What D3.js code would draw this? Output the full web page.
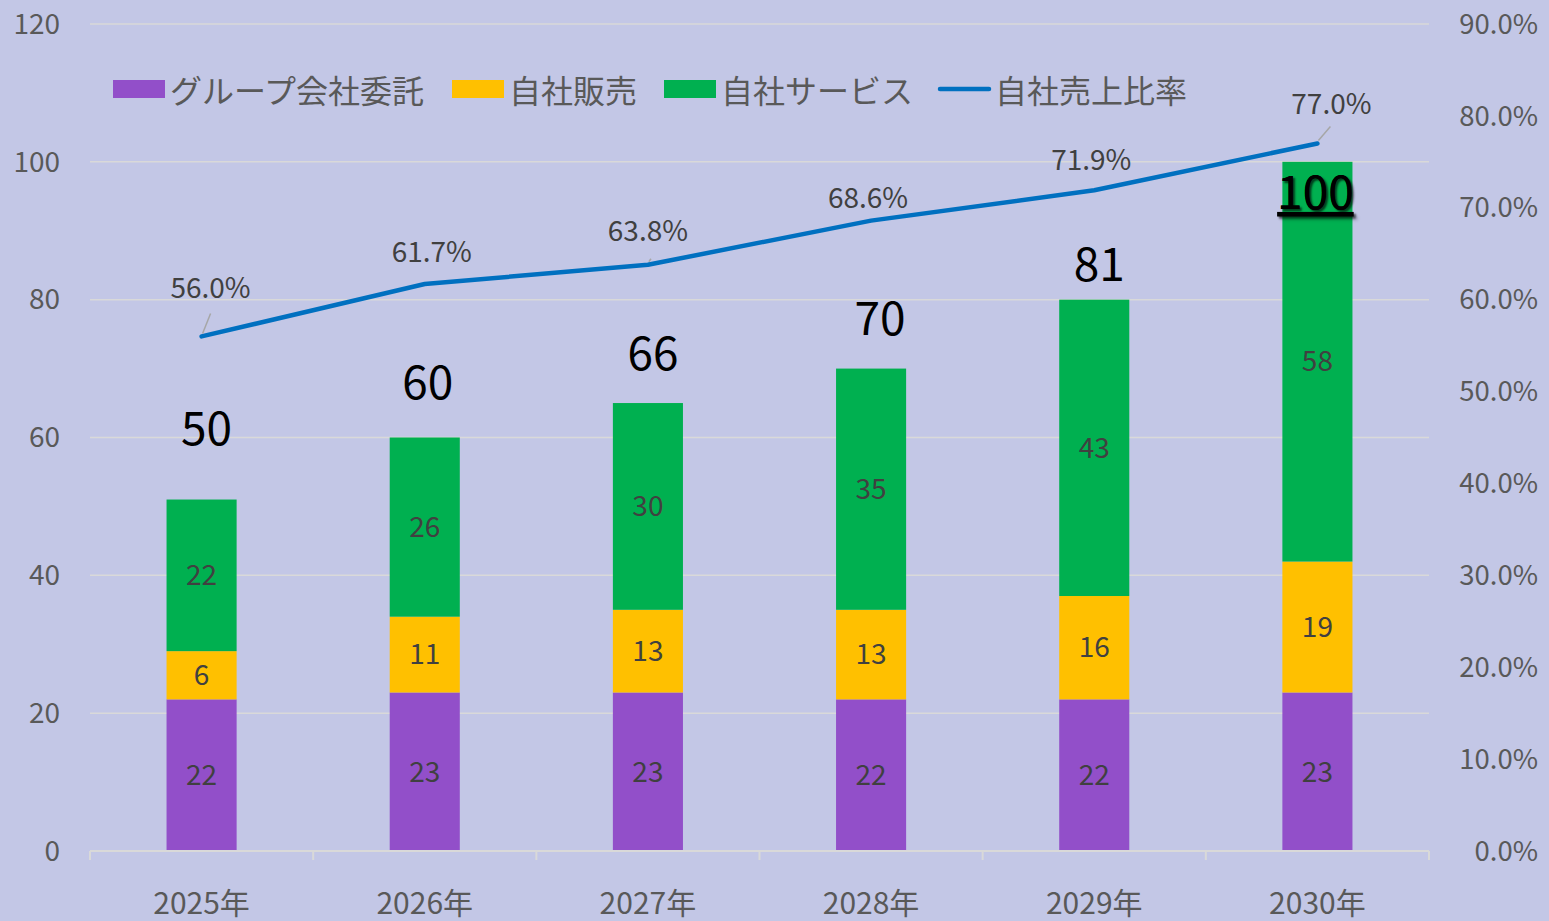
<!DOCTYPE html>
<html>
<head>
<meta charset="utf-8">
<script src="https://cdn.jsdelivr.net/npm/d3@7"></script>
<style>
  html, body { margin: 0; padding: 0; background: #c3c7e6; }
  svg { display: block; font-family: "Noto Sans CJK JP", "Noto Sans", sans-serif; }
</style>
</head>
<body>
<div id="chart"></div>
<script>
const years = ['2025年', '2026年', '2027年', '2028年', '2029年', '2030年'];
// bar heights as drawn
const groupConsign = [22, 23, 23, 22, 22, 23];
const ownSales = [7, 11, 12, 13, 15, 19];
const ownService = [22, 26, 30, 35, 43, 58];
// labels as printed on the chart (hand-entered in the original)
const ownSalesLabels = [6, 11, 13, 13, 16, 19];
const totalLabels = [50, 60, 66, 70, 81, 100];
const ownRatio = [56.0, 61.7, 63.8, 68.6, 71.9, 77.0];
const leftTicks = [0, 20, 40, 60, 80, 100, 120];
const rightTicks = [0, 10, 20, 30, 40, 50, 60, 70, 80, 90];

const seriesNames = ['グループ会社委託', '自社販売', '自社サービス', '自社売上比率'];
const colors = ['#924fc9', '#ffc000', '#00b050', '#0070c0'];

const width = 1549, height = 921;
const margin = { top: 24, right: 120, bottom: 70, left: 90 };

const svg = d3.select('#chart').append('svg')
  .attr('width', width)
  .attr('height', height);

svg.append('rect').attr('width', width).attr('height', height).attr('fill', '#c3c7e6');

const x = d3.scaleBand()
  .domain(years)
  .range([margin.left, width - margin.right])
  .paddingInner(0.686)
  .paddingOuter(0.343);
const cx = yr => x(yr) + x.bandwidth() / 2;

const y = d3.scaleLinear().domain([0, 120]).range([height - margin.bottom, margin.top]);
const y2 = d3.scaleLinear().domain([0, 90]).range([height - margin.bottom, margin.top]);

// gridlines
svg.append('g')
  .selectAll('line')
  .data(leftTicks.slice(1))
  .join('line')
  .attr('x1', margin.left)
  .attr('x2', width - margin.right)
  .attr('y1', d => y(d))
  .attr('y2', d => y(d))
  .attr('stroke', '#d9d9d9')
  .attr('stroke-width', 1.5);

// left axis labels
svg.append('g')
  .selectAll('text')
  .data(leftTicks)
  .join('text')
  .attr('x', 60)
  .attr('y', d => y(d))
  .attr('dy', '0.35em')
  .attr('text-anchor', 'end')
  .attr('font-size', 28)
  .attr('fill', '#595959')
  .text(d => d);

// right axis labels
svg.append('g')
  .selectAll('text')
  .data(rightTicks)
  .join('text')
  .attr('x', 1538)
  .attr('y', d => y2(d))
  .attr('dy', '0.35em')
  .attr('text-anchor', 'end')
  .attr('font-size', 27.5)
  .attr('fill', '#595959')
  .text(d => d.toFixed(1) + '%');

// stacked bars
const table = years.map((yr, i) => ({
  year: yr,
  idx: i,
  g: groupConsign[i],
  s: ownSales[i],
  v: ownService[i]
}));
const keys = ['g', 's', 'v'];
const stack = d3.stack().keys(keys)(table);

const segLabel = (key, d) => key === 's' ? ownSalesLabels[d.data.idx] : d.data[key];

const layers = svg.append('g')
  .selectAll('g')
  .data(stack)
  .join('g')
  .attr('fill', (d, i) => colors[i]);

layers.selectAll('rect')
  .data(d => d)
  .join('rect')
  .attr('x', d => x(d.data.year))
  .attr('width', x.bandwidth())
  .attr('y', d => y(d[1]))
  .attr('height', d => y(d[0]) - y(d[1]));

layers.each(function(layer) {
  d3.select(this).selectAll('text')
    .data(layer)
    .join('text')
    .attr('x', d => cx(d.data.year))
    .attr('y', d => (y(d[0]) + y(d[1])) / 2)
    .attr('dy', '0.35em')
    .attr('text-anchor', 'middle')
    .attr('font-size', 28)
    .attr('fill', '#404040')
    .text(d => segLabel(layer.key, d));
});

// x axis
const axisY = y(0);
svg.append('line')
  .attr('x1', margin.left).attr('x2', width - margin.right)
  .attr('y1', axisY).attr('y2', axisY)
  .attr('stroke', '#d9d9d9').attr('stroke-width', 2);

const step = x.step();
svg.append('g')
  .selectAll('line')
  .data(d3.range(years.length + 1))
  .join('line')
  .attr('x1', i => margin.left + i * step)
  .attr('x2', i => margin.left + i * step)
  .attr('y1', axisY)
  .attr('y2', axisY + 9)
  .attr('stroke', '#d9d9d9')
  .attr('stroke-width', 2);

svg.append('g')
  .selectAll('text')
  .data(years)
  .join('text')
  .attr('x', d => cx(d))
  .attr('y', 903)
  .attr('dy', '0.35em')
  .attr('text-anchor', 'middle')
  .attr('font-size', 30)
  .attr('fill', '#595959')
  .text(d => d);

// totals above bars (label nudges as placed in the original)
const barTops = years.map((yr, i) => groupConsign[i] + ownSales[i] + ownService[i]);
const totalNudge = [[5, -71], [3, -55], [5, -49], [9, -50], [5, -35], [-2, 31]];
svg.append('g')
  .selectAll('text')
  .data(totalLabels)
  .join('text')
  .attr('x', (d, i) => cx(years[i]) + totalNudge[i][0])
  .attr('y', (d, i) => y(barTops[i]) + totalNudge[i][1])
  .attr('dy', '0.35em')
  .attr('text-anchor', 'middle')
  .attr('font-size', 46)
  .attr('fill', '#000')
  .attr('text-decoration', (d, i) => i === totalLabels.length - 1 ? 'underline' : null)
  .style('text-shadow', (d, i) => i === totalLabels.length - 1 ? '2px 2px 2px rgba(0,0,0,0.4)' : null)
  .text(d => d);

// ratio line
const line = d3.line()
  .x((d, i) => cx(years[i]))
  .y(d => y2(d));

svg.append('path')
  .datum(ownRatio)
  .attr('d', line)
  .attr('fill', 'none')
  .attr('stroke', colors[3])
  .attr('stroke-width', 4.5)
  .attr('stroke-linecap', 'round')
  .attr('stroke-linejoin', 'round');

const ratioNudge = [[9, -48], [7, -32], [0, -34], [-3, -22], [-3, -30], [14, -39]];
const leaderEnd = [[9, -23], null, [3, -6], null, null, [13, -17]];
const ratioPts = ownRatio.map((d, i) => ({ v: d, yr: years[i], nudge: ratioNudge[i], leader: leaderEnd[i] }));

svg.append('g')
  .selectAll('line')
  .data(ratioPts.filter(p => p.leader))
  .join('line')
  .attr('x1', p => cx(p.yr) + 1)
  .attr('y1', p => y2(p.v) - 3)
  .attr('x2', p => cx(p.yr) + p.leader[0])
  .attr('y2', p => y2(p.v) + p.leader[1])
  .attr('stroke', '#a6a6a6')
  .attr('stroke-width', 1.5);

svg.append('g')
  .selectAll('text')
  .data(ratioPts)
  .join('text')
  .attr('x', p => cx(p.yr) + p.nudge[0])
  .attr('y', p => y2(p.v) + p.nudge[1])
  .attr('dy', '0.35em')
  .attr('text-anchor', 'middle')
  .attr('font-size', 28)
  .attr('fill', '#404040')
  .text(p => p.v.toFixed(1) + '%');

// legend
const legendItems = [
  { name: seriesNames[0], color: colors[0], x: 113, type: 'rect' },
  { name: seriesNames[1], color: colors[1], x: 452, type: 'rect' },
  { name: seriesNames[2], color: colors[2], x: 664, type: 'rect' },
  { name: seriesNames[3], color: colors[3], x: 938, type: 'line' }
];
const legend = svg.append('g')
  .selectAll('g')
  .data(legendItems)
  .join('g')
  .attr('transform', d => `translate(${d.x},89)`);

legend.filter(d => d.type === 'rect')
  .append('rect')
  .attr('x', 0).attr('y', -9)
  .attr('width', 52).attr('height', 18)
  .attr('fill', d => d.color);

legend.filter(d => d.type === 'line')
  .append('line')
  .attr('x1', 2).attr('x2', 51)
  .attr('y1', 0).attr('y2', 0)
  .attr('stroke', d => d.color)
  .attr('stroke-width', 4.5)
  .attr('stroke-linecap', 'round');

legend.append('text')
  .attr('x', 57)
  .attr('y', 3)
  .attr('dy', '0.35em')
  .attr('font-size', 32)
  .attr('fill', '#595959')
  .text(d => d.name);
</script>
</body>
</html>
